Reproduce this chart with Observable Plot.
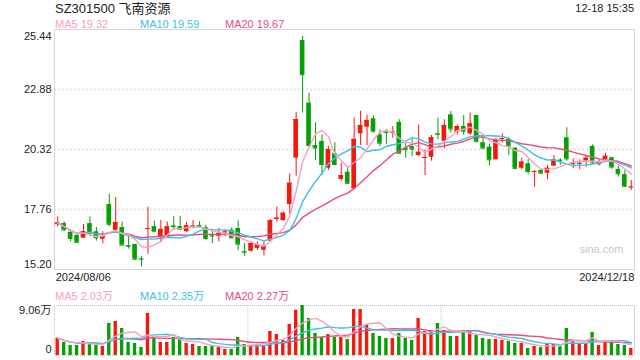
<!DOCTYPE html>
<html><head><meta charset="utf-8">
<script src="https://cdn.jsdelivr.net/npm/d3@7"></script>
<script src="https://cdn.jsdelivr.net/npm/@observablehq/plot@0.6"></script>
<style>
body{margin:0;background:#fff;}
#wrap{position:relative;width:640px;height:360px;overflow:hidden;font-family:"Liberation Sans",Arial,"Noto Sans CJK SC",sans-serif;}
.t{position:absolute;white-space:nowrap;line-height:1;}
#price{position:absolute;left:0;top:0;}
#vol{position:absolute;left:0;top:300px;}
</style></head><body>
<div id="wrap">
  <div class="t" id="title" style="left:55px;top:1.5px;font-size:13px;color:#222"></div>
  <div class="t" id="stamp" style="right:6px;top:3px;font-size:11px;color:#222"></div>
  <div class="t" id="lp5" style="left:55px;top:18.5px;font-size:11px;color:#f7a1c0"></div>
  <div class="t" id="lp10" style="left:140px;top:18.5px;font-size:11px;color:#3cc3e3"></div>
  <div class="t" id="lp20" style="left:225px;top:18.5px;font-size:11px;color:#e94c80"></div>
  <div class="t" id="lv5" style="left:55px;top:290.5px;font-size:11px;color:#f7a1c0"></div>
  <div class="t" id="lv10" style="left:140px;top:290.5px;font-size:11px;color:#3cc3e3"></div>
  <div class="t" id="lv20" style="left:225px;top:290.5px;font-size:11px;color:#e94c80"></div>
  <div id="price"></div>
  <div id="vol"></div>
</div>
<script>
const title = "SZ301500 飞南资源";
const stamp = "12-18 15:35";
const priceLegend = ["MA5 19.32", "MA10 19.59", "MA20 19.67"];
const volLegend = ["MA5 2.03万", "MA10 2.35万", "MA20 2.27万"];
const priceTicks = [25.44, 22.88, 20.32, 17.76, 15.20];
const volTicks = [9.06, 0];

const dates = [
"2024/08/06","2024/08/07","2024/08/08","2024/08/09","2024/08/12","2024/08/13","2024/08/14","2024/08/15","2024/08/16",
"2024/08/19","2024/08/20","2024/08/21","2024/08/22","2024/08/23","2024/08/26","2024/08/27","2024/08/28","2024/08/29","2024/08/30",
"2024/09/02","2024/09/03","2024/09/04","2024/09/05","2024/09/06","2024/09/09","2024/09/10","2024/09/11","2024/09/12","2024/09/13",
"2024/09/18","2024/09/19","2024/09/20","2024/09/23","2024/09/24","2024/09/25","2024/09/26","2024/09/27","2024/09/30",
"2024/10/08","2024/10/09","2024/10/10","2024/10/11","2024/10/14","2024/10/15","2024/10/16","2024/10/17","2024/10/18",
"2024/10/21","2024/10/22","2024/10/23","2024/10/24","2024/10/25","2024/10/28","2024/10/29","2024/10/30","2024/10/31",
"2024/11/01","2024/11/04","2024/11/05","2024/11/06","2024/11/07","2024/11/08","2024/11/11","2024/11/12","2024/11/13","2024/11/14","2024/11/15",
"2024/11/18","2024/11/19","2024/11/20","2024/11/21","2024/11/22","2024/11/25","2024/11/26","2024/11/27","2024/11/28","2024/11/29",
"2024/12/02","2024/12/03","2024/12/04","2024/12/05","2024/12/06","2024/12/09","2024/12/10","2024/12/11","2024/12/12","2024/12/13",
"2024/12/16","2024/12/17","2024/12/18"];

const open = [17.11,17.16,16.79,16.65,16.54,17.16,16.81,16.49,17.97,16.87,
16.99,16.22,16.27,15.66,16.92,17.03,16.55,16.55,17.06,17.03,
16.81,17.02,17.08,16.98,16.66,16.62,16.77,16.88,16.95,15.97,
15.98,16.10,16.02,16.41,17.33,17.29,17.97,19.95,24.97,22.30,
20.49,20.66,19.52,20.14,19.04,19.35,18.64,20.99,21.27,21.63,
20.95,21.07,21.03,21.48,20.38,20.44,20.06,19.95,19.99,21.00,
20.67,21.80,21.06,21.30,20.99,21.77,20.61,20.42,19.88,20.76,
20.75,20.38,19.52,19.71,19.34,19.42,19.31,19.61,19.87,20.82,
19.69,19.70,19.82,20.45,19.67,19.89,19.97,19.47,19.25,18.70];
const close = [17.18,16.89,16.52,16.36,16.81,16.81,16.55,16.61,17.13,17.20,
16.24,16.19,15.64,15.64,16.95,16.83,16.91,17.02,17.03,16.92,
17.06,17.05,17.04,16.52,16.63,16.74,16.80,16.55,16.28,15.94,
16.31,16.25,16.19,17.28,17.39,17.60,18.88,21.60,23.51,20.49,
20.38,19.68,20.32,19.68,19.21,18.88,20.75,21.34,21.56,21.10,
20.59,21.04,21.07,20.16,20.31,20.34,20.20,19.98,20.83,20.97,
21.34,21.20,21.30,21.10,21.42,20.67,20.38,19.88,20.70,20.79,
20.45,19.52,19.78,19.38,19.38,19.31,19.52,19.88,19.84,19.92,
19.72,19.73,19.95,19.78,19.81,20.03,19.57,19.28,18.75,18.72];
const high = [17.45,17.23,16.89,16.75,17.12,17.45,17.00,16.81,18.41,18.27,
17.23,16.60,16.27,15.75,17.86,17.26,17.29,17.23,17.45,17.47,
17.22,17.29,17.24,17.09,16.88,16.95,16.91,16.98,17.28,16.31,
16.35,16.38,16.38,17.33,17.86,17.66,19.28,21.91,25.14,22.72,
21.46,20.95,20.46,20.61,19.74,19.57,21.66,21.95,21.77,21.75,
21.16,21.17,21.30,21.59,20.59,20.78,21.37,20.31,20.92,21.66,
21.59,21.94,21.37,21.77,21.87,21.77,20.92,20.56,20.81,20.99,
20.82,20.38,19.95,19.89,19.42,19.50,19.64,20.06,19.92,21.25,
19.92,19.88,20.06,20.52,19.90,20.16,19.99,19.60,19.42,19.00];
const low = [17.01,16.83,16.38,16.34,16.52,16.61,16.41,16.30,17.02,16.86,
16.24,16.07,15.60,15.30,15.85,16.83,16.38,16.52,16.88,16.88,
16.79,16.94,16.96,16.45,16.31,16.38,16.60,16.52,16.00,15.77,
15.95,16.02,15.78,16.37,17.22,17.25,17.58,19.18,21.88,20.49,
19.85,19.21,19.42,19.64,18.97,18.83,18.64,20.49,20.49,21.02,
20.45,20.52,20.80,20.16,19.95,20.02,20.02,19.21,19.82,20.73,
20.35,21.02,20.95,20.92,20.92,20.59,20.31,19.61,19.88,20.60,
20.06,19.46,19.45,19.25,18.71,19.27,19.03,19.60,19.64,19.82,
19.50,19.45,19.56,19.68,19.62,19.78,19.47,19.14,18.71,18.57];
// volume, unit: 万
const volume = [3.13,2.36,1.81,1.81,2.54,2.11,1.81,1.63,5.80,6.16,
4.89,2.36,2.17,1.45,7.61,3.44,2.36,2.36,3.26,3.02,
2.17,1.99,1.63,1.63,1.63,1.45,1.09,1.09,3.26,1.99,
1.81,1.81,1.81,4.35,3.80,2.72,5.62,8.21,9.06,6.70,
3.99,3.32,3.80,3.26,3.26,2.90,8.34,8.34,5.62,3.99,
3.44,3.08,3.08,3.99,3.08,2.72,6.70,4.35,4.53,5.80,
4.53,3.44,3.44,4.35,4.35,3.62,3.08,2.90,2.90,2.72,
2.54,2.17,2.17,1.27,1.63,1.45,2.17,1.99,1.63,4.89,
2.72,2.17,2.17,4.17,1.81,2.54,2.54,1.99,1.81,1.27];

const RED = "#f3190e", GREEN = "#05a005";
const C5 = "#f7a1c0", C10 = "#3cc3e3", C20 = "#e94c80";

document.getElementById("title").textContent = title;
document.getElementById("stamp").textContent = stamp;
["lp5","lp10","lp20"].forEach((id,k)=>document.getElementById(id).textContent = priceLegend[k]);
["lv5","lv10","lv20"].forEach((id,k)=>document.getElementById(id).textContent = volLegend[k]);

const n = dates.length;
const idx = d3.range(n);
const rows = idx.map(i => ({i, o: open[i], h: high[i], l: low[i], c: close[i], v: volume[i], up: close[i] >= open[i]}));
const col = d => d.up ? RED : GREEN;
const ma = (arr, k) => arr.map((_, i) => d3.mean(arr.slice(Math.max(0, i - k + 1), i + 1)));
const pm5 = ma(close, 5), pm10 = ma(close, 10), pm20 = ma(close, 20);
const vm5 = ma(volume, 5), vm10 = ma(volume, 10), vm20 = ma(volume, 20);

const font = {fontFamily: '"Liberation Sans", Arial, "Noto Sans CJK SC", sans-serif', fontSize: "11px", color: "#222", background: "transparent", overflow: "visible"};
const axOpts = {tickSize: 0, tickPadding: 3, tickFormat: d => d.toFixed(2), label: null};
const bw = 0.36, vw = 0.26;

const price = Plot.plot({
  width: 640, height: 285, marginTop: 29, marginBottom: 16, marginLeft: 54, marginRight: 6,
  x: {domain: [-0.5, n - 0.5], axis: null, label: null},
  y: {domain: [priceTicks[4], priceTicks[0]], axis: null, label: null},
  style: font,
  marks: [
    Plot.ruleY(priceTicks.slice(1, 4), {stroke: "#e6e6e6", strokeWidth: 2, strokeDasharray: "2,2"}),
    Plot.frame({stroke: "#d6d6d6"}),
    Plot.axisY(priceTicks.slice(1, 4), axOpts),
    Plot.axisY([priceTicks[0]], {...axOpts, dy: 6.5}),
    Plot.axisY([priceTicks[4]], {...axOpts, dy: -5.5}),
    Plot.axisX([0], {tickSize: 0, tickPadding: 4, tickFormat: i => dates[i], textAnchor: "start", dx: -2, label: null}),
    Plot.axisX([n - 1], {tickSize: 0, tickPadding: 4, tickFormat: i => dates[i], textAnchor: "end", dx: 3, label: null}),
    Plot.text(["sina.com"], {frameAnchor: "bottom-right", text: d => d, textAnchor: "end", lineAnchor: "middle", dx: -11, dy: -20, fill: "#c8c8c8", fontSize: 11}),
    Plot.ruleX(rows, {x: "i", y1: "l", y2: "h", stroke: col, strokeWidth: 1}),
    Plot.rectY(rows, {x1: d => d.i - bw, x2: d => d.i + bw, y1: d => Math.min(d.o, d.c), y2: d => Math.max(d.o, d.c), fill: col}),
    Plot.ruleY(rows, {y: "c", x1: d => d.i - bw, x2: d => d.i + bw, stroke: col}),
    Plot.line(idx, {x: i => i, y: i => pm20[i], stroke: C20, strokeWidth: 1.4}),
    Plot.line(idx, {x: i => i, y: i => pm10[i], stroke: C10, strokeWidth: 1.4}),
    Plot.line(idx, {x: i => i, y: i => pm5[i], stroke: C5, strokeWidth: 1.4})
  ]
});
document.getElementById("price").appendChild(price);

const vol = Plot.plot({
  width: 640, height: 60, marginTop: 5, marginBottom: 5, marginLeft: 54, marginRight: 6,
  x: {domain: [-0.5, n - 0.5], axis: null, label: null},
  y: {domain: [0, volTicks[0]], axis: null, label: null},
  style: font,
  marks: [
    Plot.ruleY(volTicks, {stroke: "#c4c4c4", strokeDasharray: "1,1"}),
    Plot.ruleX([-0.5, n / 3 - 0.5, 2 * n / 3 - 0.5], {stroke: "#c4c4c4", strokeDasharray: "1,1"}),
    Plot.ruleX([n - 0.5], {stroke: "#d6d6d6"}),
    Plot.rectY(rows, {x1: d => d.i - vw, x2: d => d.i + vw, y1: 0, y2: "v", fill: col}),
    Plot.line(idx, {x: i => i, y: i => vm20[i], stroke: C20, strokeWidth: 1.4}),
    Plot.line(idx, {x: i => i, y: i => vm10[i], stroke: C10, strokeWidth: 1.4}),
    Plot.line(idx, {x: i => i, y: i => vm5[i], stroke: C5, strokeWidth: 1.4}),
    Plot.axisY([volTicks[0]], {tickSize: 0, tickPadding: 3, tickFormat: d => d.toFixed(2) + "万", dy: 5, label: null}),
    Plot.axisY([volTicks[1]], {tickSize: 0, tickPadding: 3, tickFormat: d => String(d), dy: -6.5, label: null})
  ]
});
document.getElementById("vol").appendChild(vol);
</script>
</body></html>
